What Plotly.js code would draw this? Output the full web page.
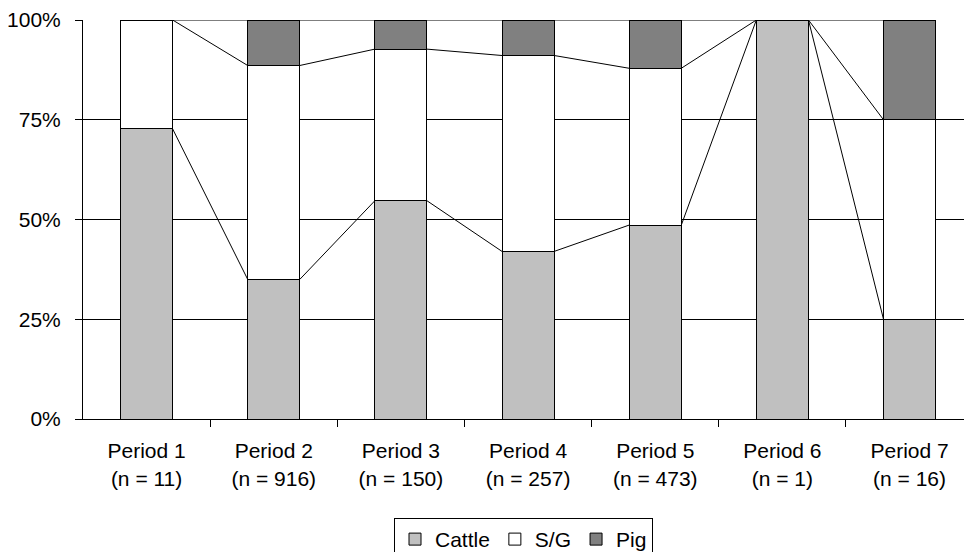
<!DOCTYPE html>
<html>
<head>
<meta charset="utf-8">
<script src="https://cdn.plot.ly/plotly-3.0.1.min.js"></script>
<style>html,body{margin:0;padding:0;background:#fff;}#chart{width:964px;height:552px;}</style>
</head>
<body>
<div id="chart"></div>
<script>
// Data (percent of each period's sample)
const periods = ["Period 1", "Period 2", "Period 3", "Period 4", "Period 5", "Period 6", "Period 7"];
const counts = [11, 916, 150, 257, 473, 1, 16];
const cattle = [72.7, 35.0, 54.7, 42.0, 48.6, 100, 25];
const sg     = [27.3, 53.6, 38.0, 49.1, 39.3, 0, 50];
const pig    = [0, 11.4, 7.3, 8.9, 12.1, 0, 25];

const tickText = periods.map((p, i) => p + "<br>(n = " + counts[i] + ")");
const idx = periods.map((_, i) => i);
const BW = 0.41;
const FONT = "Liberation Sans, Arial, sans-serif";

const barStyle = (color) => ({color: color, line: {color: "#000", width: 1}});
const traces = [
  {type: "bar", name: "Cattle", x: idx, y: cattle, width: BW, marker: barStyle("#C0C0C0"), hoverinfo: "name+y"},
  {type: "bar", name: "S/G", x: idx, y: sg, width: BW, marker: barStyle("#FFFFFF"), hoverinfo: "name+y"},
  {type: "bar", name: "Pig", x: idx, y: pig, width: BW, marker: barStyle("#808080"), hoverinfo: "name+y"}
];

// Series lines connecting the tops of each stacked segment between adjacent bars
const cum1 = cattle.slice();
const cum2 = cattle.map((v, i) => v + sg[i]);
const cum3 = cattle.map((v, i) => v + sg[i] + pig[i]);
[cum1, cum2, cum3].forEach(cum => {
  const xs = [], ys = [];
  for (let i = 0; i < cum.length - 1; i++) {
    xs.push(i + BW / 2, i + 1 - BW / 2, null);
    ys.push(cum[i], cum[i + 1], null);
  }
  traces.push({type: "scatter", mode: "lines", x: xs, y: ys, line: {color: "#000", width: 1},
    showlegend: false, hoverinfo: "skip", connectgaps: false});
});

const layout = {
  width: 964, height: 552,
  margin: {l: 83, r: 0, t: 20, b: 133, pad: 0, autoexpand: false},
  paper_bgcolor: "#fff", plot_bgcolor: "#fff",
  font: {family: FONT, size: 21, color: "#000"},
  barmode: "stack",
  showlegend: true,
  xaxis: {
    range: [-0.5, 6.428],
    tickmode: "array", tickvals: idx, ticktext: tickText,
    ticks: "", showgrid: false, zeroline: false,
    showline: true, linecolor: "#000", linewidth: 1,
    tickfont: {family: FONT, size: 21, color: "#000"},
    ticklabelstandoff: 13,
    minor: {tickmode: "array", tickvals: [0.5, 1.5, 2.5, 3.5, 4.5, 5.5], ticks: "outside", ticklen: 7, tickcolor: "#000", tickwidth: 1, showgrid: false}
  },
  yaxis: {
    range: [0, 100],
    tickmode: "array", tickvals: [0, 25, 50, 75, 100], ticktext: ["0%", "25%", "50%", "75%", "100%"],
    ticks: "outside", ticklen: 7, tickcolor: "#000", tickwidth: 1,
    showgrid: true, gridcolor: "#000", gridwidth: 1,
    zeroline: false, showline: true, linecolor: "#000", linewidth: 1,
    tickfont: {family: FONT, size: 21, color: "#000"},
    ticklabelstandoff: 10
  },
  legend: {
    orientation: "h", traceorder: "normal",
    x: 0.5, xanchor: "center", y: -0.248, yanchor: "top",
    bordercolor: "#000", borderwidth: 1, bgcolor: "#fff",
    font: {family: FONT, size: 21, color: "#000"},
    itemwidth: 30
  }
};

Plotly.newPlot("chart", traces, layout, {displayModeBar: false, staticPlot: true});
</script>
</body>
</html>
